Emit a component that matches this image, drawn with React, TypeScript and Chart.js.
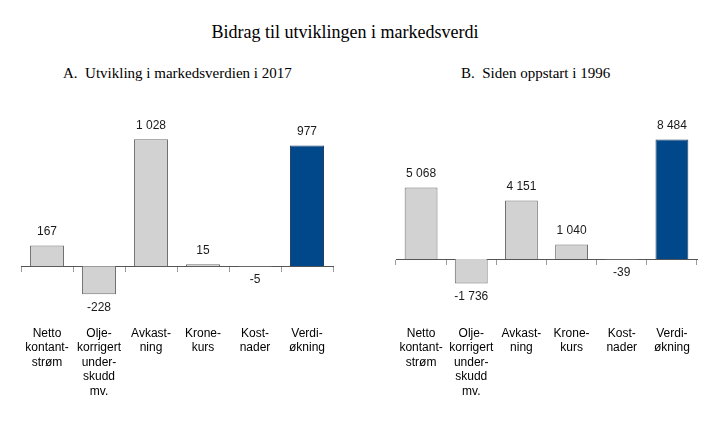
import React, { useEffect, useRef } from 'react';
import { Chart, registerables } from 'chart.js';

Chart.register(...registerables);

// ---- Data ----
const mainTitle = 'Bidrag til utviklingen i markedsverdi';
const titleA = 'A.\u00a0\u00a0Utvikling i markedsverdien i 2017';
const titleB = 'B.\u00a0\u00a0Siden oppstart i 1996';

const categories: string[][] = [
  ['Netto', 'kontant-', 'strøm'],
  ['Olje-', 'korrigert', 'under-', 'skudd', 'mv.'],
  ['Avkast-', 'ning'],
  ['Krone-', 'kurs'],
  ['Kost-', 'nader'],
  ['Verdi-', 'økning'],
];

const valuesA = [167, -228, 1028, 15, -5, 977];
const valuesB = [5068, -1736, 4151, 1040, -39, 8484];

const rangeA = [-400, 1200];
const rangeB = [-4000, 10000];

// ---- Styles ----
const GRAY_FILL = '#d2d2d2';
const GRAY_BORDER = '#6f6f6f';
const BLUE_FILL = '#00488a';
const BLUE_BORDER = '#243f60';
const SANS = "'Liberation Sans', Arial, sans-serif";
const SERIF = "'Liberation Serif', 'Times New Roman', serif";

const fmt = (v: number) => {
  const s = String(Math.abs(v)).replace(/\B(?=(\d{3})+(?!\d))/g, ' ');
  return (v < 0 ? '-' : '') + s;
};

const valueLabels = {
  id: 'valueLabels',
  afterDatasetsDraw(chart: any) {
    const ctx = chart.ctx;
    const meta = chart.getDatasetMeta(0);
    const data = chart.data.datasets[0].data as number[];
    ctx.save();
    ctx.font = `12px ${SANS}`;
    ctx.fillStyle = '#1a1a1a';
    ctx.textAlign = 'center';
    ctx.textBaseline = 'middle';
    meta.data.forEach((el: any, i: number) => {
      const v = data[i];
      const { x, y } = el.getProps(['x', 'y'], true);
      const ty = v >= 0 ? y - 14 : y + 13;
      ctx.fillText(fmt(v), x, ty);
    });
    ctx.restore();
  },
};

function Panel(props: {
  left: number;
  width: number;
  padLeft: number;
  padRight: number;
  values: number[];
  range: number[];
}) {
  const ref = useRef<HTMLCanvasElement>(null);
  useEffect(() => {
    const n = props.values.length;
    const fills = props.values.map((_, i) => (i === n - 1 ? BLUE_FILL : GRAY_FILL));
    const borders = props.values.map((_, i) => (i === n - 1 ? BLUE_BORDER : GRAY_BORDER));
    const chart = new Chart(ref.current!, {
      type: 'bar',
      data: {
        labels: categories as any,
        datasets: [
          {
            data: props.values,
            backgroundColor: fills,
            borderColor: borders,
            borderWidth: 1,
            barPercentage: 0.655,
            categoryPercentage: 1,
            xAxisID: 'x',
            yAxisID: 'y',
          },
        ],
      },
      options: {
        animation: false,
        responsive: false,
        maintainAspectRatio: false,
        layout: { padding: { left: props.padLeft, right: props.padRight, top: 118, bottom: 0 } },
        plugins: {
          legend: { display: false },
          tooltip: { enabled: false },
          title: { display: false },
        },
        scales: {
          x: {
            type: 'category',
            position: 'bottom',
            offset: true,
            grid: { display: false },
            border: { display: false },
            ticks: {
              autoSkip: false,
              maxRotation: 0,
              minRotation: 0,
              padding: 3,
              color: '#000',
              font: { family: SANS, size: 12, lineHeight: 1.2 },
            },
            afterFit: (s: any) => {
              s.height = 425 - 315.5;
            },
          },
          x2: {
            type: 'category',
            position: { y: 0 } as any,
            offset: true,
            grid: {
              offset: true,
              drawOnChartArea: false,
              drawTicks: true,
              tickLength: 5,
              color: '#9a9a9a',
            },
            border: { display: true, color: '#555555', width: 1 },
            ticks: { display: false },
          },
          y: {
            display: false,
            min: props.range[0],
            max: props.range[1],
          },
        },
      } as any,
      plugins: [valueLabels],
    });
    return () => chart.destroy();
  }, []);
  return (
    <div style={{ position: 'absolute', left: props.left, top: 0, width: props.width, height: 425 }}>
      <canvas
        ref={ref}
        width={props.width}
        height={425}
        style={{ width: props.width, height: 425, display: 'block' }}
      />
    </div>
  );
}

export default function App() {
  return (
    <div
      style={{
        position: 'absolute',
        left: 0,
        top: 0,
        width: 719,
        height: 425,
        background: '#fff',
        overflow: 'hidden',
      }}
    >
      <div
        style={{
          position: 'absolute',
          left: 0,
          width: 690,
          top: 23,
          textAlign: 'center',
          fontFamily: SERIF,
          fontSize: 18,
          lineHeight: '18px',
          whiteSpace: 'nowrap',
          color: '#000',
        }}
      >
        {mainTitle}
      </div>
      <div
        style={{
          position: 'absolute',
          left: 63,
          top: 66,
          fontFamily: SERIF,
          fontSize: 15,
          lineHeight: '15px',
          whiteSpace: 'nowrap',
          color: '#000',
        }}
      >
        {titleA}
      </div>
      <div
        style={{
          position: 'absolute',
          left: 461,
          top: 66,
          fontFamily: SERIF,
          fontSize: 15,
          lineHeight: '15px',
          whiteSpace: 'nowrap',
          color: '#000',
        }}
      >
        {titleB}
      </div>
      <Panel left={0} width={360} padLeft={21} padRight={27} values={valuesA} range={rangeA} />
      <Panel left={360} width={359} padLeft={36} padRight={22} values={valuesB} range={rangeB} />
    </div>
  );
}
